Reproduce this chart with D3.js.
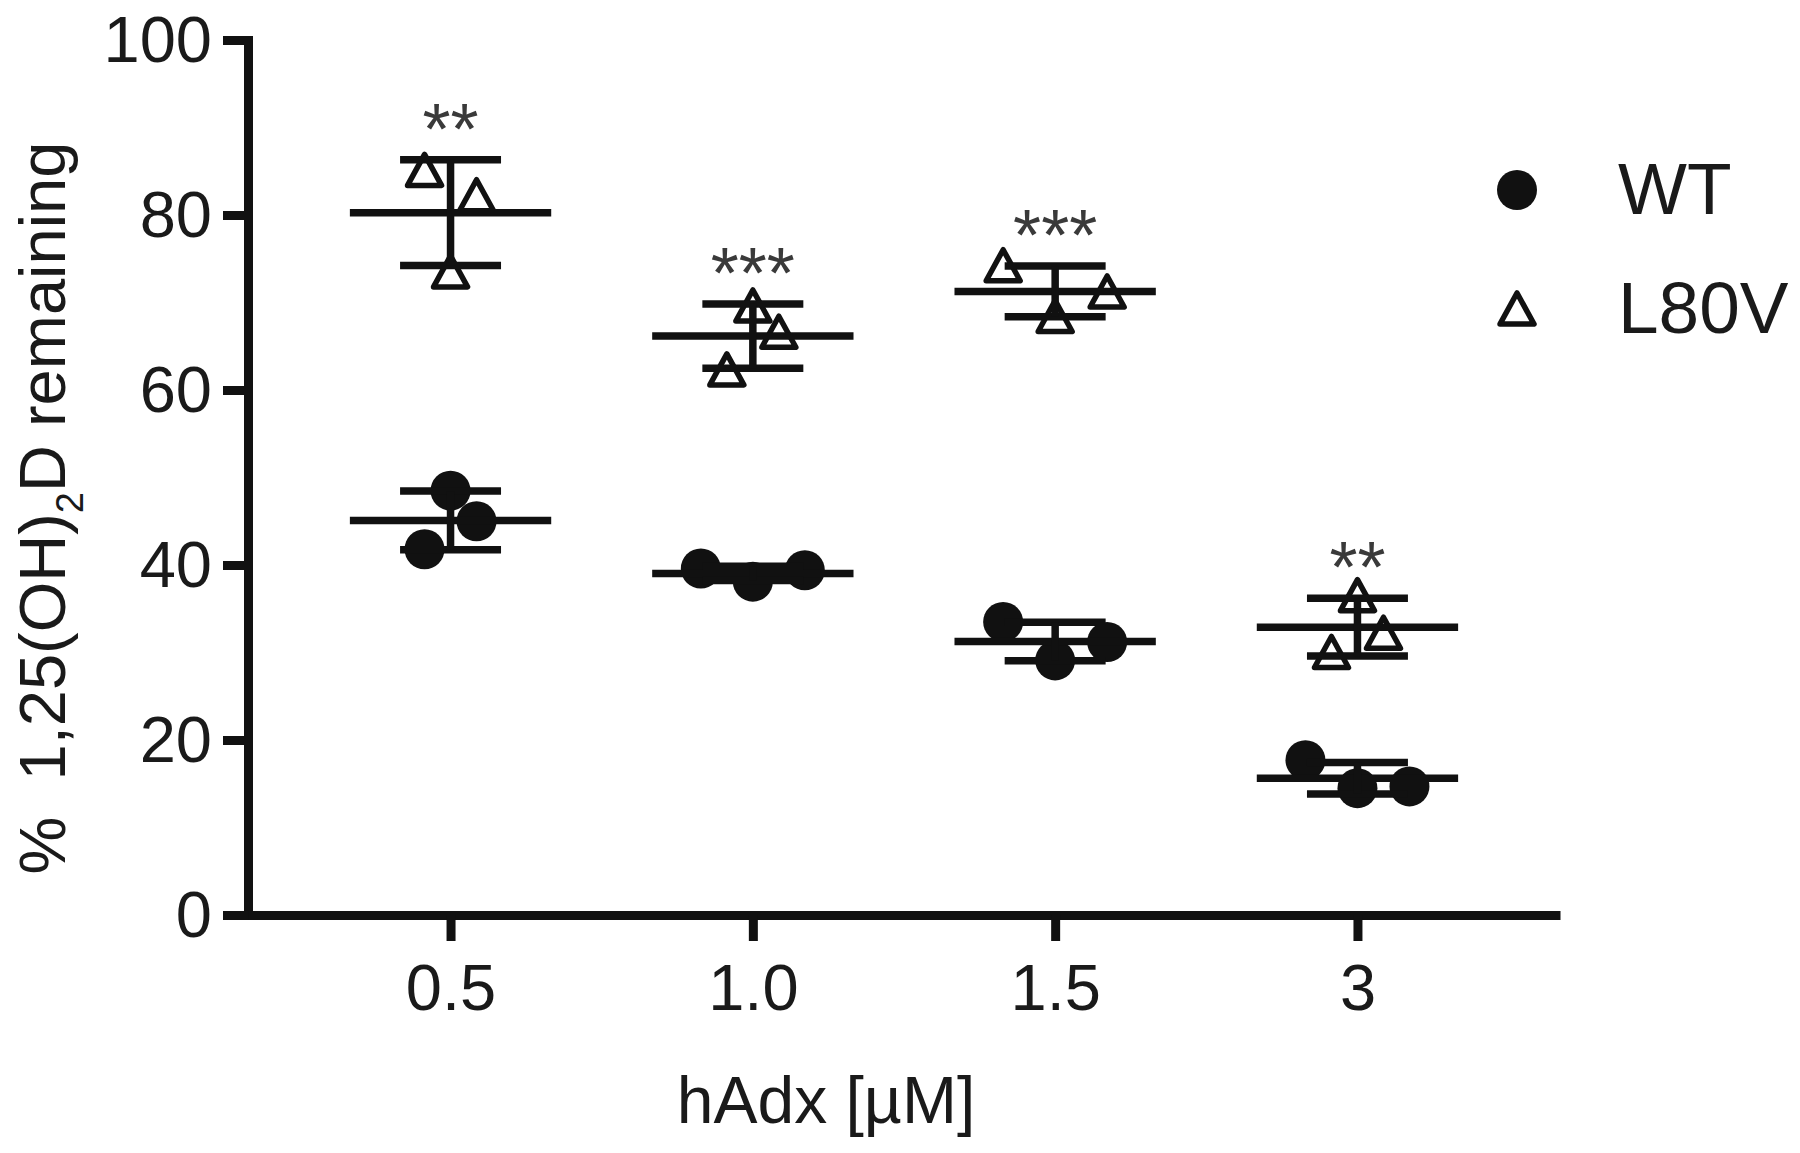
<!DOCTYPE html>
<html>
<head>
<meta charset="utf-8">
<script src="https://cdn.jsdelivr.net/npm/d3@7"></script>
<style>
  body { margin: 0; background: #fff; }
  text { font-family: "Liberation Sans", Arial, sans-serif; fill: #1a1a1a; }
</style>
</head>
<body>
<div id="chart"></div>
<script>
// ---- data ----
const categories = ["0.5", "1.0", "1.5", "3"];
const wtValues   = [[48.5, 45.0, 41.8], [39.6, 38.1, 39.4], [33.5, 29.1, 31.2], [17.7, 14.5, 14.7]];
const l80vValues = [[85.1, 82.2, 73.5], [69.6, 66.6, 62.3], [74.2, 71.2, 68.4], [36.5, 32.2, 30.0]];
const significance = ["**", "***", "***", "**"];
const yTicks = [0, 20, 40, 60, 80, 100];
const seriesNames = ["WT", "L80V"];

// horizontal scatter slots (Prism spreads replicates so they don't overlap)
const wtSlots   = [[0, 1, -1], [-2, 0, 2], [-2, 0, 2], [-2, 0, 2]];
const l80vSlots = [[-1, 1, 0], [0, 1, -1], [-2, 2, 0], [0, 1, -1]];

const width = 1800, height = 1153;
const ink = "#111";

const svg = d3.select("#chart").append("svg")
    .attr("width", width)
    .attr("height", height);

const x = d3.scalePoint().domain(categories).range([248, 1560]).padding(0.67);
const y = d3.scaleLinear().domain([0, 100]).range([915, 40]);
const step = x.step();
const slotW = step * 0.086;

// ---- axes ----
const yAxis = svg.append("g")
    .attr("transform", "translate(248,0)")
    .call(d3.axisLeft(y).tickValues(yTicks).tickSize(25).tickSizeOuter(0).tickPadding(11));
yAxis.select(".domain").attr("stroke", ink).attr("stroke-width", 9).attr("stroke-linecap", "square");
yAxis.selectAll(".tick line").attr("stroke", ink).attr("stroke-width", 9);
yAxis.selectAll(".tick text").attr("font-size", 65).attr("dy", "0.33em");

const xAxis = svg.append("g")
    .attr("transform", "translate(0," + y(0) + ")")
    .call(d3.axisBottom(x).tickSize(26).tickSizeOuter(0));
xAxis.select(".domain").attr("stroke", ink).attr("stroke-width", 9);
xAxis.selectAll(".tick line").attr("stroke", ink).attr("stroke-width", 9);
xAxis.selectAll(".tick text").attr("font-size", 65).attr("y", 95).attr("dy", 0);

// axis titles
svg.append("text")
    .attr("x", 826).attr("y", 1123)
    .attr("text-anchor", "middle")
    .attr("font-size", 66)
    .text("hAdx [µM]");

const yTitle = svg.append("text")
    .attr("transform", "translate(65,508) rotate(-90)")
    .attr("text-anchor", "middle")
    .attr("font-size", 65)
    .style("white-space", "pre");
yTitle.append("tspan").text("%  1,25(OH)");
yTitle.append("tspan").attr("font-size", 38).attr("dy", 18).text("2");
yTitle.append("tspan").attr("dy", -18).text("D remaining");

// ---- marks ----
const triPath = "M0,-16L17,15L-17,15Z";

function drawSeries(values, slots, kind) {
    values.forEach(function (vals, i) {
        const cx = x(categories[i]);
        const m = d3.mean(vals);
        const sd = d3.deviation(vals);
        const g = svg.append("g").attr("class", "grp-" + kind);

        // points
        vals.forEach(function (v, j) {
            const px = cx + slots[i][j] * slotW;
            if (kind === "wt") {
                g.append("circle")
                    .attr("cx", px).attr("cy", y(v)).attr("r", 20)
                    .attr("fill", ink);
            } else {
                g.append("path")
                    .attr("d", triPath)
                    .attr("transform", "translate(" + px + "," + y(v) + ")")
                    .attr("fill", "none")
                    .attr("stroke", ink)
                    .attr("stroke-width", 5.5)
                    .attr("stroke-linejoin", "round");
            }
        });

        // mean and SD
        const lines = [
            [cx - step * 0.333, y(m), cx + step * 0.333, y(m)],
            [cx - step * 0.167, y(m + sd), cx + step * 0.167, y(m + sd)],
            [cx - step * 0.167, y(m - sd), cx + step * 0.167, y(m - sd)],
            [cx, y(m + sd), cx, y(m - sd)]
        ];
        g.selectAll("line").data(lines).enter().append("line")
            .attr("x1", d => d[0]).attr("y1", d => d[1])
            .attr("x2", d => d[2]).attr("y2", d => d[3])
            .attr("stroke", ink)
            .attr("stroke-width", 7.5);

        if (kind === "l80v") {
            g.append("text")
                .attr("x", cx)
                .attr("y", y(m + sd) - 6)
                .attr("text-anchor", "middle")
                .attr("font-size", 72)
                .style("fill", "#3a3a3a")
                .text(significance[i]);
        }
    });
}

drawSeries(wtValues, wtSlots, "wt");
drawSeries(l80vValues, l80vSlots, "l80v");

// ---- legend ----
const legend = svg.append("g").attr("transform", "translate(1517,190)");
seriesNames.forEach(function (name, i) {
    const row = legend.append("g").attr("transform", "translate(0," + (i * 119) + ")");
    if (i === 0) {
        row.append("circle").attr("r", 20).attr("fill", ink);
    } else {
        row.append("path").attr("d", triPath)
            .attr("fill", "none").attr("stroke", ink)
            .attr("stroke-width", 5.5).attr("stroke-linejoin", "round");
    }
    row.append("text")
        .attr("x", 101).attr("y", 24)
        .attr("font-size", 73)
        .text(name);
});
</script>
</body>
</html>
